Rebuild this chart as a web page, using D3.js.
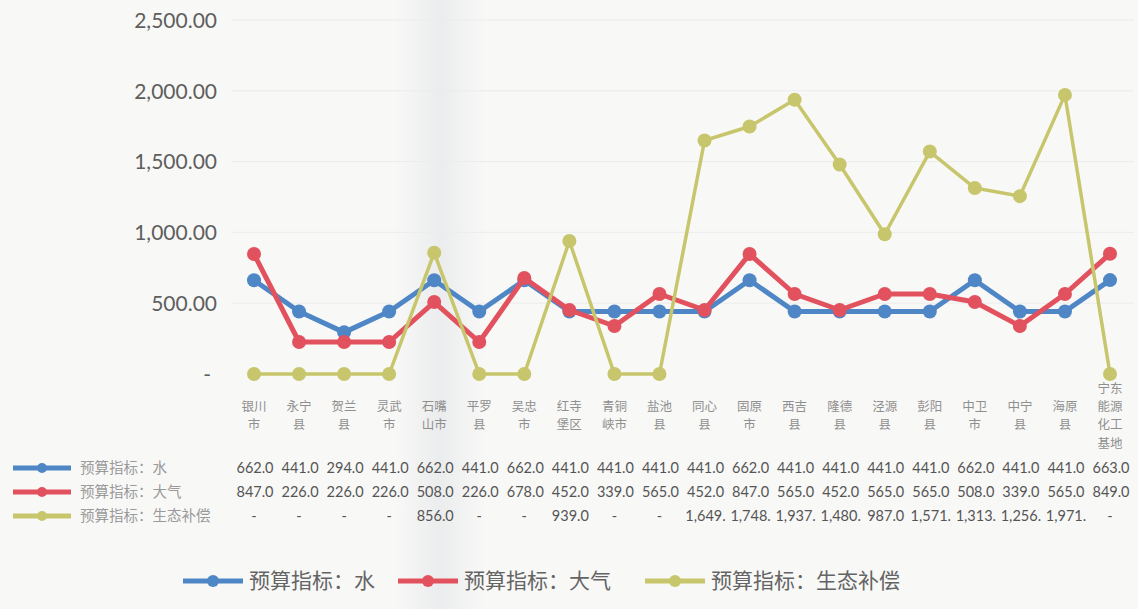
<!DOCTYPE html>
<html>
<head>
<meta charset="utf-8">
<script src="https://cdn.jsdelivr.net/npm/d3@7"></script>
<style>
  body { margin: 0; background: #f8f8f7; }
  svg { display: block; }
</style>
</head>
<body>
<div id="chart"></div>
<script>
const categories = ["银川市", "永宁县", "贺兰县", "灵武市", "石嘴山市", "平罗县", "吴忠市", "红寺堡区", "青铜峡市", "盐池县",
    "同心县", "固原市", "西吉县", "隆德县", "泾源县", "彭阳县", "中卫市", "中宁县", "海原县", "宁东能源化工基地"];
const waterValues = [662, 441, 294, 441, 662, 441, 662, 441, 441, 441, 441, 662, 441, 441, 441, 441, 662, 441, 441, 663];
const airValues = [847, 226, 226, 226, 508, 226, 678, 452, 339, 565, 452, 847, 565, 452, 565, 565, 508, 339, 565, 849];
const ecoValues = [0, 0, 0, 0, 856, 0, 0, 939, 0, 0, 1649, 1748, 1937, 1480, 987, 1571, 1313, 1256, 1971, 0];
const seriesNames = ["预算指标：水", "预算指标：大气", "预算指标：生态补偿"];
const seriesColors = ["#4f86c6", "#e2525e", "#c8c66c"];
const yTicks = [0, 500, 1000, 1500, 2000, 2500];

const series = [waterValues, airValues, ecoValues].map((values, i) => ({
    name: seriesNames[i], color: seriesColors[i], values: values
}));

const width = 1138, height = 609;
const svg = d3.select("#chart").append("svg")
    .attr("width", width)
    .attr("height", height);

// faint scan band
const grad = svg.append("defs").append("linearGradient").attr("id", "band");
grad.append("stop").attr("offset", "0%").attr("stop-color", "#f8f8f7");
grad.append("stop").attr("offset", "50%").attr("stop-color", "#ebeced");
grad.append("stop").attr("offset", "100%").attr("stop-color", "#f8f8f7");
svg.append("rect").attr("x", 395).attr("y", 0).attr("width", 90).attr("height", height)
    .attr("fill", "url(#band)");

const x = d3.scalePoint().domain(categories).range([254, 1110]);
const y = d3.scaleLinear().domain([0, 2500]).range([374, 20]);

const fmtTick = d => d === 0 ? "-" : d3.format(",.2f")(d);

// gridlines
svg.append("g").selectAll("line")
    .data(yTicks.slice(1))
    .enter().append("line")
    .attr("x1", 232).attr("x2", 1134)
    .attr("y1", d => y(d)).attr("y2", d => y(d))
    .attr("stroke", "#ececec")
    .attr("stroke-width", 1);

// y axis labels
const yAxis = svg.append("g")
    .attr("transform", "translate(217,0)")
    .call(d3.axisLeft(y).tickValues(yTicks).tickFormat(fmtTick).tickSize(0).tickPadding(0));
yAxis.select(".domain").remove();
yAxis.selectAll("text")
    .attr("font-family", "Lato, 'Open Sans', sans-serif")
    .attr("font-size", 21)
    .attr("fill", "#5e5e5e")
    .attr("dy", "0.35em")
    .attr("dx", d => d === 0 ? -6 : 0);

// lines and markers
const line = d3.line()
    .x((d, i) => x(categories[i]))
    .y(d => y(d));

series.forEach((s, si) => {
    svg.append("path")
        .datum(s.values)
        .attr("fill", "none")
        .attr("stroke", s.color)
        .attr("stroke-width", si === 2 ? 3.5 : 5)
        .attr("stroke-linejoin", "round")
        .attr("d", line);
    svg.append("g").selectAll("circle")
        .data(s.values)
        .enter().append("circle")
        .attr("cx", (d, i) => x(categories[i]))
        .attr("cy", d => y(d))
        .attr("r", 7)
        .attr("fill", s.color);
});

// category labels, 2 characters per line, centred vertically
const catFont = "'Noto Sans CJK SC', sans-serif";
const lh = 18.2;
categories.forEach(c => {
    const parts = c.match(/.{1,2}/g);
    const top = 416 - (parts.length - 1) * lh / 2;
    parts.forEach((p, k) => {
        svg.append("text")
            .attr("x", x(c))
            .attr("y", top + k * lh)
            .attr("dy", "0.35em")
            .attr("text-anchor", "middle")
            .attr("font-family", catFont)
            .attr("font-size", 12.5)
            .attr("fill", "#8f8f8f")
            .text(p);
    });
});

// data table
const rowY = [468, 492, 516];
const fmtCell = d => {
    if (d === 0) return "-";
    const s = d3.format(",.1f")(d);
    return s.length > 6 ? s.slice(0, 6) : s;   // column too narrow, cut like the sheet
};

series.forEach((s, si) => {
    const ry = rowY[si];
    svg.append("line")
        .attr("x1", 13).attr("x2", 71)
        .attr("y1", ry).attr("y2", ry)
        .attr("stroke", s.color).attr("stroke-width", 5);
    svg.append("circle").attr("cx", 42).attr("cy", ry).attr("r", 5).attr("fill", s.color);
    svg.append("text")
        .attr("x", 80).attr("y", ry).attr("dy", "0.35em")
        .attr("font-family", catFont)
        .attr("font-size", 14.5)
        .attr("fill", "#9a9a9a")
        .text(s.name);

    svg.append("g").selectAll("text")
        .data(s.values)
        .enter().append("text")
        .attr("x", (d, i) => x(categories[i]) + (d === 0 ? 0 : 1))
        .attr("y", ry).attr("dy", "0.35em")
        .attr("text-anchor", "middle")
        .attr("font-family", "Lato, 'Open Sans', sans-serif")
        .attr("font-size", 14.5)
        .attr("fill", "#555555")
        .text(fmtCell);
});

// bottom legend
const legendX = [183, 398, 645];
series.forEach((s, si) => {
    const lx = legendX[si];
    const g = svg.append("g").attr("transform", `translate(${lx},581)`);
    g.append("line").attr("x1", 0).attr("x2", 60)
        .attr("stroke", s.color).attr("stroke-width", 5);
    g.append("circle").attr("cx", 30).attr("r", 6).attr("fill", s.color);
    g.append("text")
        .attr("x", 66).attr("dy", "0.35em")
        .attr("font-family", catFont)
        .attr("font-size", 21)
        .attr("fill", "#646464")
        .text(s.name);
});
</script>
</body>
</html>
